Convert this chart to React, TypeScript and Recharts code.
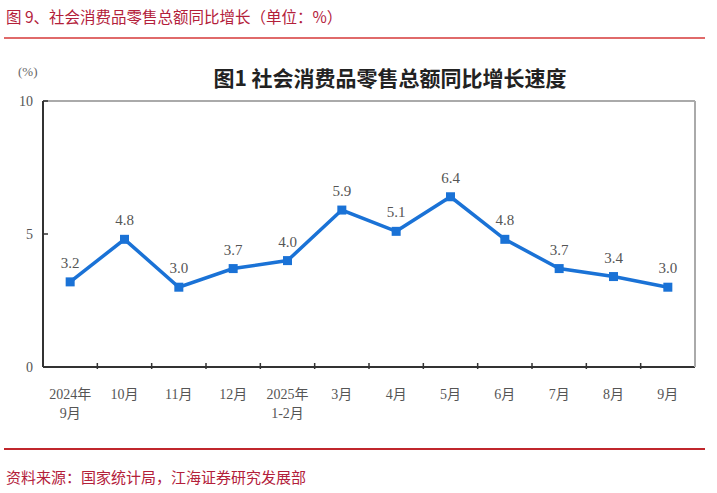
import { LineChart, Line, XAxis, YAxis, LabelList } from 'recharts';

const categories = ['2024年\n9月', '10月', '11月', '12月', '2025年\n1-2月', '3月', '4月', '5月', '6月', '7月', '8月', '9月'];
const growth = [3.2, 4.8, 3.0, 3.7, 4.0, 5.9, 5.1, 6.4, 4.8, 3.7, 3.4, 3.0];
const yTicks = [0, 5, 10];

const data = categories.map((name, i) => ({ idx: i, name, value: growth[i] }));

// label ticks at each category, short tick marks at the boundaries between them
const xTicks: number[] = [];
categories.forEach((_, i) => {
  xTicks.push(i);
  if (i < categories.length - 1) xTicks.push(i + 0.5);
});

const serif = '"Liberation Serif", "Times New Roman", "Noto Sans CJK SC", serif';
const cjk = '"Noto Sans CJK SC", "DejaVu Sans", sans-serif';
const BLUE = '#1a72d6';

function XTick(props: any) {
  const { x, y, payload } = props;
  const v = payload.value as number;
  if (v % 1 !== 0) {
    return <line x1={x} x2={x} y1={y} y2={y - 6} stroke="#333" strokeWidth={1.5} />;
  }
  const lines = categories[v].split('\n');
  return (
    <text x={x} y={y} textAnchor="middle" fill="#555" fontSize={14} fontFamily={serif}>
      {lines.map((l, k) => (
        <tspan key={k} x={x} dy={k === 0 ? 30 : 19}>{l}</tspan>
      ))}
    </text>
  );
}

function SquareDot(props: any) {
  const { cx, cy } = props;
  if (cx == null || cy == null) return null;
  return <rect x={cx - 4.5} y={cy - 4.5} width={9} height={9} fill={BLUE} />;
}

export default function App() {
  return (
    <div style={{ position: 'absolute', left: 0, top: 0, width: 717, height: 493, background: '#fff' }}>
      <div style={{ position: 'absolute', left: 6, top: 5, fontSize: 15.5, color: '#b3203a', fontFamily: cjk, whiteSpace: 'nowrap' }}>
        图 9、社会消费品零售总额同比增长（单位：%）
      </div>
      <div style={{ position: 'absolute', left: 4, top: 37, width: 701, height: 2, background: '#e06a6a' }} />

      <div style={{ position: 'absolute', left: 18, top: 64, fontSize: 13, color: '#666', fontFamily: serif }}>(%)</div>
      <div style={{ position: 'absolute', left: 0, width: 780, top: 62, textAlign: 'center', fontSize: 21, fontWeight: 'bold', color: '#222', fontFamily: cjk }}>
        图1 社会消费品零售总额同比增长速度
      </div>

      <div style={{ position: 'absolute', left: 0, top: 0 }}>
        <LineChart width={717} height={493} data={data} margin={{ top: 100, right: 21, bottom: 125, left: 42 }}>
          <XAxis
            dataKey="idx"
            type="number"
            domain={[-0.5, 11.5]}
            ticks={xTicks}
            interval={0}
            height={1}
            tickLine={false}
            tickSize={0}
            tick={<XTick />}
            axisLine={{ stroke: '#333', strokeWidth: 2 }}
          />
          <XAxis
            xAxisId="top"
            orientation="top"
            dataKey="idx"
            type="number"
            domain={[-0.5, 11.5]}
            height={1}
            tick={false}
            tickLine={false}
            axisLine={{ stroke: '#aaa', strokeWidth: 2 }}
          />
          <YAxis
            domain={[0, 10]}
            ticks={yTicks}
            width={1}
            tickSize={-5}
            tickMargin={15}
            tickLine={{ stroke: '#333', strokeWidth: 1.5 }}
            axisLine={{ stroke: '#333', strokeWidth: 2 }}
            tick={{ fill: '#555', fontSize: 14, fontFamily: serif }}
          />
          <YAxis
            yAxisId="right"
            orientation="right"
            domain={[0, 10]}
            width={1}
            tick={false}
            tickLine={false}
            axisLine={{ stroke: '#aaa', strokeWidth: 2 }}
          />
          <Line
            dataKey="value"
            stroke={BLUE}
            strokeWidth={3.5}
            dot={<SquareDot />}
            activeDot={false}
            isAnimationActive={false}
          >
            <LabelList
              dataKey="value"
              position="top"
              offset={14}
              fill="#555"
              fontSize={15}
              fontFamily={serif}
              formatter={(v: any) => Number(v).toFixed(1)}
            />
          </Line>
        </LineChart>
      </div>

      <div style={{ position: 'absolute', left: 4, top: 448, width: 701, height: 2, background: '#c0262c' }} />
      <div style={{ position: 'absolute', left: 6, top: 466, fontSize: 15, color: '#b3203a', fontFamily: cjk, whiteSpace: 'nowrap' }}>
        资料来源：国家统计局，江海证券研究发展部
      </div>
    </div>
  );
}
